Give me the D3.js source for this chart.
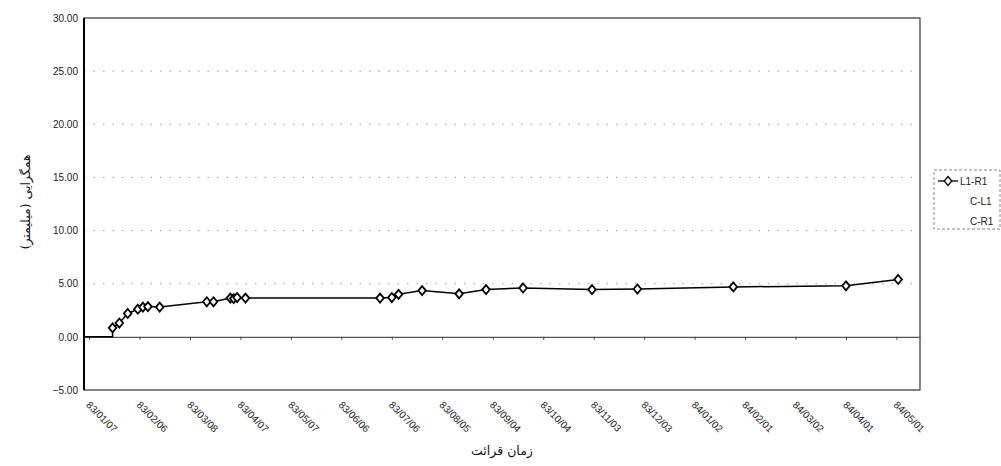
<!DOCTYPE html>
<html>
<head>
    <meta charset="utf-8">
    <title>همگرایی</title>
    <script src="https://d3js.org/d3.v7.min.js"></script>
    <style>
        body { margin: 0; background: #fff; }
        svg { display: block; }
        .tick-label { font-family: Arial, "Liberation Sans", sans-serif; font-size: 10px; fill: #222; }
        .title { font-family: "DejaVu Sans", sans-serif; font-size: 12.5px; fill: #111; }
        .grid line { stroke: #a0a0a0; stroke-width: 1; stroke-dasharray: 1.5,8; }
    </style>
</head>
<body>
    <svg></svg>
    <script>
        // Dates: days counted from 83/01/07, one tick label every 30 days
        const tickLabels = ["83/01/07", "83/02/06", "83/03/08", "83/04/07", "83/05/07", "83/06/06",
            "83/07/06", "83/08/05", "83/09/04", "83/10/04", "83/11/03", "83/12/03",
            "84/01/02", "84/02/01", "84/03/02", "84/04/01", "84/05/01"];
        const yTicks = [-5, 0, 5, 10, 15, 20, 25, 30];

        // Series L1-R1 (millimetres)
        const l1r1Days = [-3, 14, 14, 18, 23, 29, 32, 35, 42, 70, 74, 84, 86, 88, 93,
            173, 180, 184, 198, 220, 236, 258, 299, 326, 383, 450, 481];
        const l1r1Values = [0, 0, 0.85, 1.3, 2.2, 2.6, 2.8, 2.85, 2.8, 3.3, 3.3, 3.65, 3.6, 3.7, 3.65,
            3.65, 3.7, 4.0, 4.35, 4.05, 4.45, 4.6, 4.45, 4.5, 4.7, 4.8, 5.4];

        const legendNames = ["L1-R1", "C-L1", "C-R1"];

        const width = 1001, height = 466;
        const plot = { left: 84, right: 920, top: 18, bottom: 390 };

        const svg = d3.select("svg").attr("width", width).attr("height", height);

        const x = d3.scaleLinear().domain([-3, 494]).range([plot.left, plot.right]);
        const y = d3.scaleLinear().domain([-5, 30]).range([plot.bottom, plot.top]);
        const tickDays = tickLabels.map((d, i) => i * 30);

        // gridlines
        svg.append("g").attr("class", "grid")
            .selectAll("line")
            .data(yTicks.filter(v => v > 0 && v < 30))
            .join("line")
            .attr("x1", plot.left).attr("x2", plot.right)
            .attr("y1", d => y(d)).attr("y2", d => y(d));

        // plot border
        svg.append("rect")
            .attr("x", plot.left).attr("y", plot.top)
            .attr("width", plot.right - plot.left).attr("height", plot.bottom - plot.top)
            .attr("fill", "none").attr("stroke", "#333").attr("stroke-width", 1.2);
        svg.append("line")
            .attr("x1", plot.left).attr("x2", plot.left)
            .attr("y1", plot.top).attr("y2", plot.bottom)
            .attr("stroke", "#000").attr("stroke-width", 2);

        // y axis labels
        const yAxis = d3.axisLeft(y).tickValues(yTicks).tickFormat(d3.format(".2f")).tickSize(0).tickPadding(6);
        const gy = svg.append("g").attr("transform", `translate(${plot.left},0)`).call(yAxis);
        gy.select(".domain").remove();
        gy.selectAll("text").attr("class", "tick-label");

        // horizontal axis crossing at zero
        const xAxis = d3.axisBottom(x).tickValues(tickDays).tickFormat("").tickSizeInner(3).tickSizeOuter(0);
        const gx = svg.append("g").attr("transform", `translate(0,${y(0)})`).call(xAxis);
        gx.select(".domain").attr("stroke", "#555").attr("stroke-width", 1.3);
        gx.selectAll(".tick line").attr("stroke", "#444");

        // date labels at the bottom, rotated
        svg.append("g")
            .selectAll("text")
            .data(tickDays)
            .join("text")
            .attr("class", "tick-label")
            .attr("transform", d => `translate(${x(d) - 1},${plot.bottom + 13}) rotate(45)`)
            .attr("dy", "0.35em")
            .text((d, i) => tickLabels[i]);

        // series L1-R1
        const pts = l1r1Days.map((d, i) => ({ day: d, value: l1r1Values[i] }));
        const line = d3.line().x(d => x(d.day)).y(d => y(d.value));
        svg.append("path")
            .datum(pts)
            .attr("d", line)
            .attr("fill", "none").attr("stroke", "#000").attr("stroke-width", 1.5);

        const diamond = "M0,-4.5L3.8,0L0,4.5L-3.8,0Z";
        svg.append("g")
            .selectAll("path")
            .data(pts.filter(d => d.value > 0))
            .join("path")
            .attr("d", diamond)
            .attr("transform", d => `translate(${x(d.day)},${y(d.value)})`)
            .attr("fill", "#fff").attr("stroke", "#000").attr("stroke-width", 1.8);

        // axis titles
        svg.append("text").attr("class", "title")
            .attr("x", (plot.left + plot.right) / 2).attr("y", 455)
            .attr("text-anchor", "middle")
            .text("زمان قرائت");
        svg.append("text").attr("class", "title")
            .attr("transform", `translate(30,${(plot.top + plot.bottom) / 2 - 2}) rotate(-90)`)
            .attr("text-anchor", "middle")
            .text("همگرایی (میلیمتر)");

        // legend
        const legend = svg.append("g").attr("transform", "translate(934,170)");
        legend.append("rect")
            .attr("width", 66).attr("height", 59)
            .attr("fill", "#fff").attr("stroke", "#888").attr("stroke-dasharray", "3,2");
        legend.append("line")
            .attr("x1", 4).attr("x2", 24).attr("y1", 11).attr("y2", 11)
            .attr("stroke", "#000").attr("stroke-width", 1.3);
        legend.append("path")
            .attr("d", diamond)
            .attr("transform", "translate(14,11)")
            .attr("fill", "#fff").attr("stroke", "#000").attr("stroke-width", 1.3);
        legend.selectAll("text.leg")
            .data(legendNames)
            .join("text")
            .attr("class", "tick-label leg")
            .attr("x", (d, i) => i === 0 ? 26 : 36)
            .attr("y", (d, i) => 15 + i * 20)
            .text(d => d);
    </script>
</body>
</html>
